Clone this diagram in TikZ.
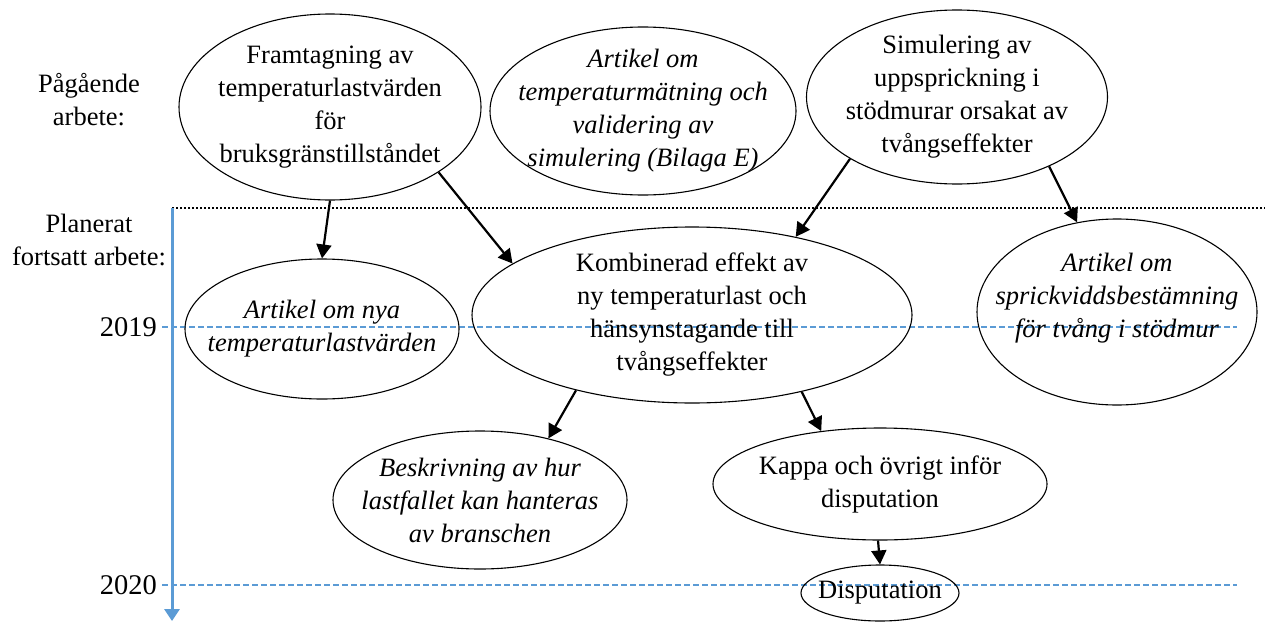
\documentclass[tikz,border=0pt]{standalone}
\usepackage{fontspec}
\setmainfont{Liberation Serif}
\definecolor{TimeBlue}{RGB}{91,155,213}
\usetikzlibrary{
    arrows.meta,
    shapes.geometric
}
\newcommand{\bubblesize}{\fontsize{26.5}{33}\selectfont}
\tikzset{
    bubble/.style={
        ellipse,
        draw,
        line width=1.1pt,
        inner xsep=-30pt,
        inner ysep=-20pt,
        align=center,
        font=\bubblesize
    },
    paper/.style={
        bubble,
        font=\bubblesize\itshape
    },
    phase/.style={
        align=center,
        font=\bubblesize
    },
    year/.style={
        anchor=east,
        inner sep=0pt,
        font=\fontsize{28.5}{34}\selectfont
    },
    flow/.style={
        -{Triangle[length=14pt,width=15pt]},
        line width=2.2pt
    },
    yearline/.style={
        TimeBlue,
        line width=1.2pt,
        dash pattern=on 6pt off 3pt
    }
}

\begin{document}
\begin{tikzpicture}[x=1pt,y=-1pt]
%
    \useasboundingbox (0,0) rectangle (1265,621);
%
    % phase labels and years
    \node[phase] (ongoing) at (89,100) {Pågående\\arbete:};
    \node[phase] (planned) at (89,240) {Planerat\\fortsatt arbete:};
    \node[year] (y2019) at (157,327) {2019};
    \node[year] (y2020) at (157,585) {2020};
%
    \coordinate (split west) at (172,208);
    \coordinate (split east) at (1265,208);
    \coordinate (axis end) at (172,621);
    \coordinate (end2019) at (1237,327);
    \coordinate (end2020) at (1237,585);
%
    \draw[
        dotted,
        line width=2pt
    ]
    (split west) -- (split east);
%
    \draw[yearline] ([xshift=5pt]y2019.east) -- (end2019);
    \draw[yearline] ([xshift=5pt]y2020.east) -- (end2020);
%
    \draw[
        TimeBlue,
        line width=3pt,
        -{Triangle[length=12pt,width=15pt]}
    ]
    (split west) -- (axis end);
%
    % ongoing work
    \node[bubble, minimum width=302pt, minimum height=186pt] (fram) at (330,107)
        {Framtagning av\\temperaturlastvärden\\för\\bruksgränstillståndet};
    \node[paper, minimum width=306pt, minimum height=168pt] (matning) at (643,111)
        {Artikel om\\temperaturmätning och\\validering av\\simulering (Bilaga E)};
    \node[bubble, minimum width=301pt, minimum height=174pt] (simul) at (957,97)
        {Simulering av\\uppsprickning i\\stödmurar orsakat av\\tvångseffekter};
%
    % planned work
    \node[paper, minimum width=274pt, minimum height=140pt] (nya) at (322,329)
        {Artikel om nya\\temperaturlastvärden};
    \node[bubble, minimum width=440pt, minimum height=176pt] (komb) at (692,315)
        {Kombinerad effekt av\\ny temperaturlast och\\hänsynstagande till\\tvångseffekter};
    \node[paper, minimum width=280pt, minimum height=186pt] (spricka) at (1117,312)
        {Artikel om\\sprickviddsbestämning\\för tvång i stödmur\\\mbox{}};
    \node[paper, minimum width=294pt, minimum height=138pt] (bransch) at (480,500)
        {Beskrivning av hur\\lastfallet kan hanteras\\av branschen};
    \node[bubble, minimum width=334pt, minimum height=112pt] (kappa) at (880,484)
        {Kappa och övrigt inför\\disputation};
    \node[bubble, minimum width=158pt, minimum height=56pt] (disp) at (880,593)
        {Disputation};
%
    % dependencies
    \draw[flow] (fram.south) -- (nya.north);
    \draw[flow] (fram.-31) -- (komb.164);
    \draw[flow] (simul.210) -- (komb.37);
    \draw[flow] (simul.-37) -- (spricka.114);
    \draw[flow] (komb.213) -- (bransch.42);
    \draw[flow] (komb.-35) -- (kappa.138);
    \draw[flow] (kappa.-92) -- (disp.north);
%
\end{tikzpicture}
\end{document}
